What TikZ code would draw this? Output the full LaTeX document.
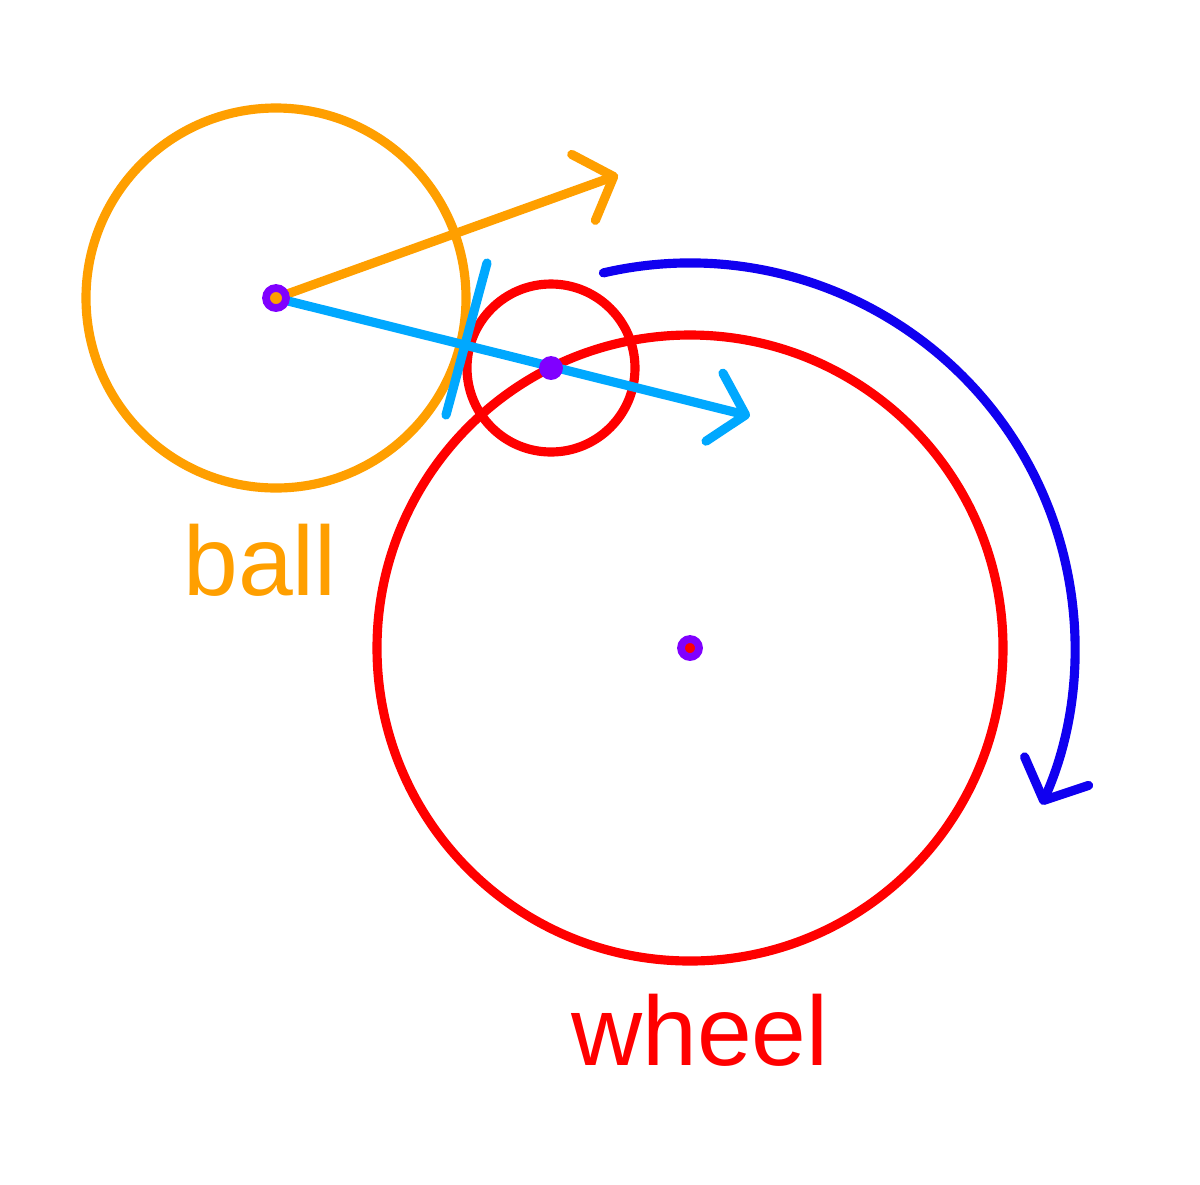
\documentclass[tikz,border=0pt]{standalone}
\usepackage{fontspec}
\setmainfont{Liberation Sans}
\usetikzlibrary{arrows.meta}
\definecolor{orng}{HTML}{FF9F00}
\definecolor{lblue}{HTML}{00A8FF}
\definecolor{dblue}{HTML}{1000F0}
\definecolor{purp}{HTML}{8000FF}
\begin{document}
\begin{tikzpicture}[x=0.01cm,y=-0.01cm,
  ln/.style={line width=2.6pt,line cap=round},
  hd/.style={-{Straight Barb[length=0.32cm,width=0.7cm,line cap=round,round]}},
  dot/.style={circle,draw=purp,line width=2.2pt,inner sep=0pt,minimum size=0.2cm}]
\useasboundingbox (0,0) rectangle (1200,1184);
\coordinate (bc) at (276,298);
\coordinate (wc) at (690,648);
\coordinate (sc) at (551,368);
\coordinate (oa) at (618,175);
\coordinate (la) at (750,416);
\coordinate (t1) at (487,263);
\coordinate (t2) at (446,415);
\draw[ln,orng] (bc) circle[radius=190];
\draw[ln,red] (wc) circle[radius=313];
\draw[ln,red] (sc) circle[radius=84];
\draw[ln,orng,hd] (bc) -- (oa);
\draw[ln,lblue,hd] (bc) -- (la);
\draw[ln,lblue] (t1) -- (t2);
\draw[ln,dblue,hd] (wc) ++(-103:385) arc[start angle=-103,end angle=24,radius=385];
\node[dot,fill=orng] (bd) at (bc) {};
\node[dot,fill=red,minimum size=0.18cm] (wd) at (wc) {};
\node[dot,fill=purp,minimum size=0.16cm] (sd) at (sc) {};
\node[orng,font=\fontsize{28}{32}\selectfont] (bl) at (260,560) {ball};
\node[red,font=\fontsize{28}{32}\selectfont] (wl) at (700,1030) {wheel};
\end{tikzpicture}
\end{document}
